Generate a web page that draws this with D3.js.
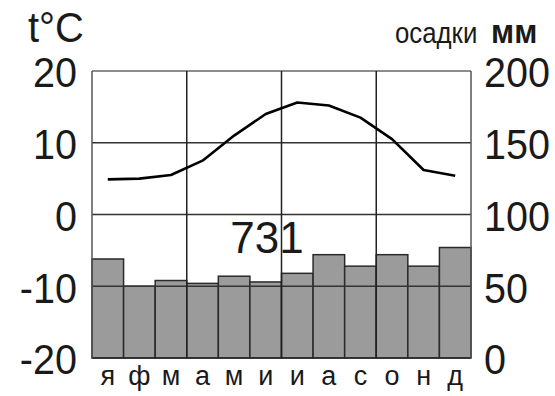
<!DOCTYPE html>
<html><head><meta charset="utf-8">
<script src="https://cdn.jsdelivr.net/npm/d3@7"></script>
<style>
html,body{margin:0;padding:0;background:#fff;}
svg{display:block;}
text{font-family:"Liberation Sans",Arial,sans-serif;fill:#1a1a1a;}
</style></head>
<body>
<svg id="c" width="555" height="396"></svg>
<script>
const months = ["я","ф","м","а","м","и","и","а","с","о","н","д"];
const temperature = [4.9, 5, 5.5, 7.5, 11, 14, 15.6, 15.2, 13.5, 10.5, 6.2, 5.4];
const precipitation = [69, 50, 54, 52, 57, 53, 59, 72, 64, 72, 64, 77];
const tempTicks = [-20, -10, 0, 10, 20];
const precipTicks = [0, 50, 100, 150, 200];
const totalPrecip = "731";

const svg = d3.select("#c");
const L = 92, R = 471, T = 71, B = 358;
const x = d3.scaleBand().domain(d3.range(12)).range([L, R]).padding(0);
const yT = d3.scaleLinear().domain([-20, 20]).range([B, T]);
const yP = d3.scaleLinear().domain([0, 200]).range([B, T]);

// bars
svg.append("g").selectAll("rect").data(precipitation).join("rect")
  .attr("x", (d, i) => x(i)).attr("width", x.bandwidth())
  .attr("y", d => yP(d)).attr("height", d => B - yP(d))
  .attr("fill", "#9b9b9b").attr("stroke", "#2a2a2a").attr("stroke-width", 1.5);

// grid
const g = svg.append("g");
g.selectAll("line.h").data(tempTicks).join("line")
  .attr("x1", L).attr("x2", R).attr("y1", d => yT(d)).attr("y2", d => yT(d))
  .attr("stroke", (d, i) => (i === 0 ? "#2a2a2a" : i === tempTicks.length - 1 ? "#666" : "#333"))
  .attr("stroke-width", 1.5);
g.selectAll("line.v").data([0, 3, 6, 9, 12]).join("line")
  .attr("x1", d => d === 12 ? R : x(d)).attr("x2", d => d === 12 ? R : x(d))
  .attr("y1", T).attr("y2", B)
  .attr("stroke", d => (d === 0 || d === 12) ? "#555" : "#222")
  .attr("stroke-width", 1.5);

// temperature line
svg.append("path").datum(temperature)
  .attr("fill", "none").attr("stroke", "#000").attr("stroke-width", 2.6)
  .attr("stroke-linejoin", "round")
  .attr("d", d3.line().x((d, i) => x(i) + x.bandwidth() / 2).y(d => yT(d)));

// axes
const sx = 0.92;
const ax = svg.append("g").attr("transform", `translate(${L},0)`)
  .call(d3.axisLeft(yT).tickValues(tempTicks).tickSize(0).tickPadding(15).tickFormat(d => String(d)));
ax.select(".domain").remove();
ax.selectAll("text").style("font-size", "43px").attr("fill", "#1a1a1a").attr("dy", "0.37em")
  .attr("transform", `translate(-15,0) scale(${sx},1) translate(15,0)`);

const ar = svg.append("g").attr("transform", `translate(${R},0)`)
  .call(d3.axisRight(yP).tickValues(precipTicks).tickSize(0).tickPadding(13).tickFormat(d => String(d)));
ar.select(".domain").remove();
ar.selectAll("text").style("font-size", "43px").attr("fill", "#1a1a1a").attr("dy", "0.37em")
  .attr("transform", `translate(13,0) scale(${sx},1) translate(-13,0)`);

const ab = svg.append("g").attr("transform", `translate(0,${B})`)
  .call(d3.axisBottom(x).tickSize(0).tickPadding(8).tickFormat(i => months[i]));
ab.select(".domain").remove();
ab.selectAll("text").style("font-size", "27px").attr("fill", "#1a1a1a");

// titles
svg.append("text").attr("x", 28).attr("y", 42).style("font-size", "42px")
  .attr("transform", "translate(28,0) scale(0.95,1) translate(-28,0)").text("t°C");
svg.append("text").attr("x", 395).attr("y", 43).style("font-size", "30px")
  .attr("transform", "translate(395,0) scale(0.86,1) translate(-395,0)").text("осадки");
svg.append("text").attr("x", 491).attr("y", 43).style("font-size", "34px").style("font-weight", "bold")
  .attr("transform", "translate(491,0) scale(0.92,1) translate(-491,0)").text("мм");
svg.append("text").attr("x", 267).attr("y", 253).attr("text-anchor", "middle").style("font-size", "44px").text(totalPrecip);
</script>
</body></html>
